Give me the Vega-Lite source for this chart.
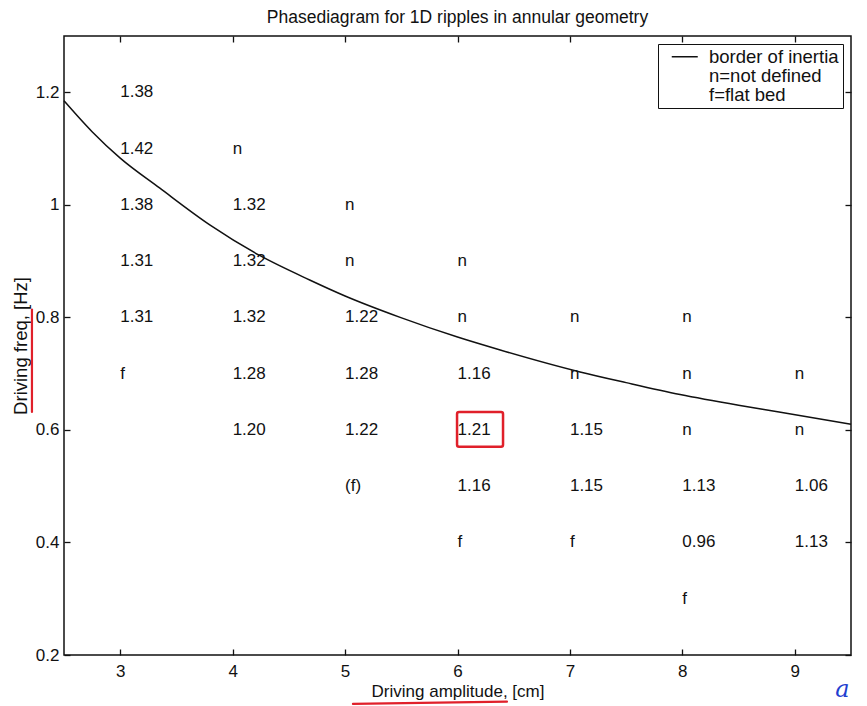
{
  "$schema": "https://vega.github.io/schema/vega-lite/v6.json",
  "width": 787,
  "height": 619,
  "autosize": "none",
  "padding": {"left": 64, "top": 36, "right": 16, "bottom": 51},
  "background": "white",
  "title": {
    "text": "Phasediagram for 1D ripples in annular geometry",
    "font": "Liberation Sans",
    "fontSize": 17.5,
    "fontWeight": "normal",
    "color": "#111",
    "offset": 9
  },
  "config": {
    "font": "Liberation Sans",
    "view": {"stroke": "#111", "strokeWidth": 1.5},
    "axis": {
      "domain": false,
      "grid": false,
      "tickSize": -6,
      "tickColor": "#111",
      "tickWidth": 1.3,
      "labelFont": "Liberation Sans",
      "labelFontSize": 17,
      "labelColor": "#111",
      "titleFont": "Liberation Sans",
      "titleFontSize": 17,
      "titleFontWeight": "normal",
      "titleColor": "#111"
    },
    "legend": {
      "orient": "top-right",
      "offset": 8,
      "padding": 3.5,
      "symbolOffset": 1,
      "strokeColor": "#111",
      "fillColor": "white",
      "labelFont": "Liberation Sans",
      "labelFontSize": 18.5,
      "labelColor": "#111",
      "symbolType": "M0,0H4",
      "symbolSize": 169,
      "symbolStrokeWidth": 1.5,
      "labelOffset": 28,
      "rowPadding": 0,
      "cornerRadius": 0
    }
  },
  "datasets": {
    "cells": [
      {"amp": 3, "freq": 1.2, "label": "1.38"},
      {"amp": 3, "freq": 1.1, "label": "1.42"},
      {"amp": 4, "freq": 1.1, "label": "n"},
      {"amp": 3, "freq": 1.0, "label": "1.38"},
      {"amp": 4, "freq": 1.0, "label": "1.32"},
      {"amp": 5, "freq": 1.0, "label": "n"},
      {"amp": 3, "freq": 0.9, "label": "1.31"},
      {"amp": 4, "freq": 0.9, "label": "1.32"},
      {"amp": 5, "freq": 0.9, "label": "n"},
      {"amp": 6, "freq": 0.9, "label": "n"},
      {"amp": 3, "freq": 0.8, "label": "1.31"},
      {"amp": 4, "freq": 0.8, "label": "1.32"},
      {"amp": 5, "freq": 0.8, "label": "1.22"},
      {"amp": 6, "freq": 0.8, "label": "n"},
      {"amp": 7, "freq": 0.8, "label": "n"},
      {"amp": 8, "freq": 0.8, "label": "n"},
      {"amp": 3, "freq": 0.7, "label": "f"},
      {"amp": 4, "freq": 0.7, "label": "1.28"},
      {"amp": 5, "freq": 0.7, "label": "1.28"},
      {"amp": 6, "freq": 0.7, "label": "1.16"},
      {"amp": 7, "freq": 0.7, "label": "n"},
      {"amp": 8, "freq": 0.7, "label": "n"},
      {"amp": 9, "freq": 0.7, "label": "n"},
      {"amp": 4, "freq": 0.6, "label": "1.20"},
      {"amp": 5, "freq": 0.6, "label": "1.22"},
      {"amp": 6, "freq": 0.6, "label": "1.21"},
      {"amp": 7, "freq": 0.6, "label": "1.15"},
      {"amp": 8, "freq": 0.6, "label": "n"},
      {"amp": 9, "freq": 0.6, "label": "n"},
      {"amp": 5, "freq": 0.5, "label": "(f)"},
      {"amp": 6, "freq": 0.5, "label": "1.16"},
      {"amp": 7, "freq": 0.5, "label": "1.15"},
      {"amp": 8, "freq": 0.5, "label": "1.13"},
      {"amp": 9, "freq": 0.5, "label": "1.06"},
      {"amp": 6, "freq": 0.4, "label": "f"},
      {"amp": 7, "freq": 0.4, "label": "f"},
      {"amp": 8, "freq": 0.4, "label": "0.96"},
      {"amp": 9, "freq": 0.4, "label": "1.13"},
      {"amp": 8, "freq": 0.3, "label": "f"}
    ],
    "border": [
      {"amp": 2.5, "freq": 1.185, "series": "border of inertia"},
      {"amp": 2.75, "freq": 1.130, "series": "border of inertia"},
      {"amp": 3.0, "freq": 1.083, "series": "border of inertia"},
      {"amp": 3.35, "freq": 1.030, "series": "border of inertia"},
      {"amp": 3.8, "freq": 0.964, "series": "border of inertia"},
      {"amp": 4.24, "freq": 0.910, "series": "border of inertia"},
      {"amp": 4.69, "freq": 0.866, "series": "border of inertia"},
      {"amp": 5.0, "freq": 0.838, "series": "border of inertia"},
      {"amp": 5.49, "freq": 0.800, "series": "border of inertia"},
      {"amp": 6.0, "freq": 0.765, "series": "border of inertia"},
      {"amp": 6.38, "freq": 0.742, "series": "border of inertia"},
      {"amp": 7.09, "freq": 0.703, "series": "border of inertia"},
      {"amp": 7.5, "freq": 0.684, "series": "border of inertia"},
      {"amp": 7.98, "freq": 0.663, "series": "border of inertia"},
      {"amp": 8.5, "freq": 0.644, "series": "border of inertia"},
      {"amp": 8.86, "freq": 0.632, "series": "border of inertia"},
      {"amp": 9.5, "freq": 0.610, "series": "border of inertia"}
    ],
    "highlight": [
      {"a1": 5.996, "a2": 6.405, "f1": 0.570, "f2": 0.632}
    ],
    "strokes": [
      {"a1": 5.07, "a2": 6.44, "f1": 0.113, "f2": 0.117},
      {"a1": 2.215, "a2": 2.215, "f1": 0.814, "f2": 0.632}
    ],
    "note": [
      {"amp": 9.36, "freq": 0.125, "label": "a"}
    ]
  },
  "layer": [
    {
      "layer": [
        {
          "data": {"name": "cells"},
          "mark": {"type": "text", "align": "left", "baseline": "middle", "font": "Liberation Sans", "fontSize": 17, "color": "#111"},
          "encoding": {
            "x": {
              "field": "amp", "type": "quantitative",
              "scale": {"domain": [2.5, 9.5], "nice": false, "zero": false},
              "axis": {"orient": "bottom", "values": [3, 4, 5, 6, 7, 8, 9], "format": "~g", "title": "Driving amplitude, [cm]", "labelPadding": 14, "titlePadding": 4}
            },
            "y": {
              "field": "freq", "type": "quantitative",
              "scale": {"domain": [0.2, 1.3], "nice": false, "zero": false},
              "axis": {"values": [0.2, 0.4, 0.6, 0.8, 1, 1.2], "format": "~g", "title": "Driving freq, [Hz]", "titleFontSize": 18.5, "labelPadding": 11, "titlePadding": 5}
            },
            "text": {"field": "label", "type": "nominal"}
          }
        },
        {
          "data": {"name": "highlight"},
          "mark": {"type": "rect", "fill": null, "fillOpacity": 0, "stroke": "#e0202a", "strokeWidth": 2.5, "cornerRadius": 2},
          "encoding": {
            "x": {"field": "a1", "type": "quantitative", "title": "Driving amplitude, [cm]"},
            "x2": {"field": "a2"},
            "y": {"field": "f1", "type": "quantitative", "title": "Driving freq, [Hz]"},
            "y2": {"field": "f2"}
          }
        },
        {
          "data": {"name": "strokes"},
          "mark": {"type": "rule", "stroke": "#e0202a", "strokeWidth": 2.2, "strokeCap": "round"},
          "encoding": {
            "x": {"field": "a1", "type": "quantitative", "title": "Driving amplitude, [cm]"},
            "x2": {"field": "a2"},
            "y": {"field": "f1", "type": "quantitative", "title": "Driving freq, [Hz]"},
            "y2": {"field": "f2"}
          }
        },
        {
          "data": {"name": "note"},
          "mark": {"type": "text", "align": "left", "baseline": "alphabetic", "font": "DejaVu Serif", "fontStyle": "italic", "fontSize": 24, "color": "#1f3fd0"},
          "encoding": {
            "x": {"field": "amp", "type": "quantitative", "title": "Driving amplitude, [cm]"},
            "y": {"field": "freq", "type": "quantitative", "title": "Driving freq, [Hz]"},
            "text": {"field": "label", "type": "nominal"}
          }
        }
      ]
    },
    {
      "data": {"name": "border"},
      "mark": {"type": "line", "interpolate": "monotone", "strokeWidth": 1.5},
      "encoding": {
        "x": {
          "field": "amp", "type": "quantitative",
          "scale": {"domain": [2.5, 9.5], "nice": false, "zero": false},
          "axis": {"orient": "top", "values": [3, 4, 5, 6, 7, 8, 9], "labels": false, "title": null}
        },
        "y": {
          "field": "freq", "type": "quantitative",
          "scale": {"domain": [0.2, 1.3], "nice": false, "zero": false},
          "axis": {"orient": "right", "values": [0.2, 0.4, 0.6, 0.8, 1, 1.2], "labels": false, "title": null}
        },
        "color": {
          "field": "series", "type": "nominal",
          "scale": {"domain": ["border of inertia", "n=not defined", "f=flat bed"], "range": ["#111111", "transparent", "transparent"]},
          "legend": {"title": null}
        }
      }
    }
  ],
  "resolve": {"scale": {"x": "independent", "y": "independent"}}
}
